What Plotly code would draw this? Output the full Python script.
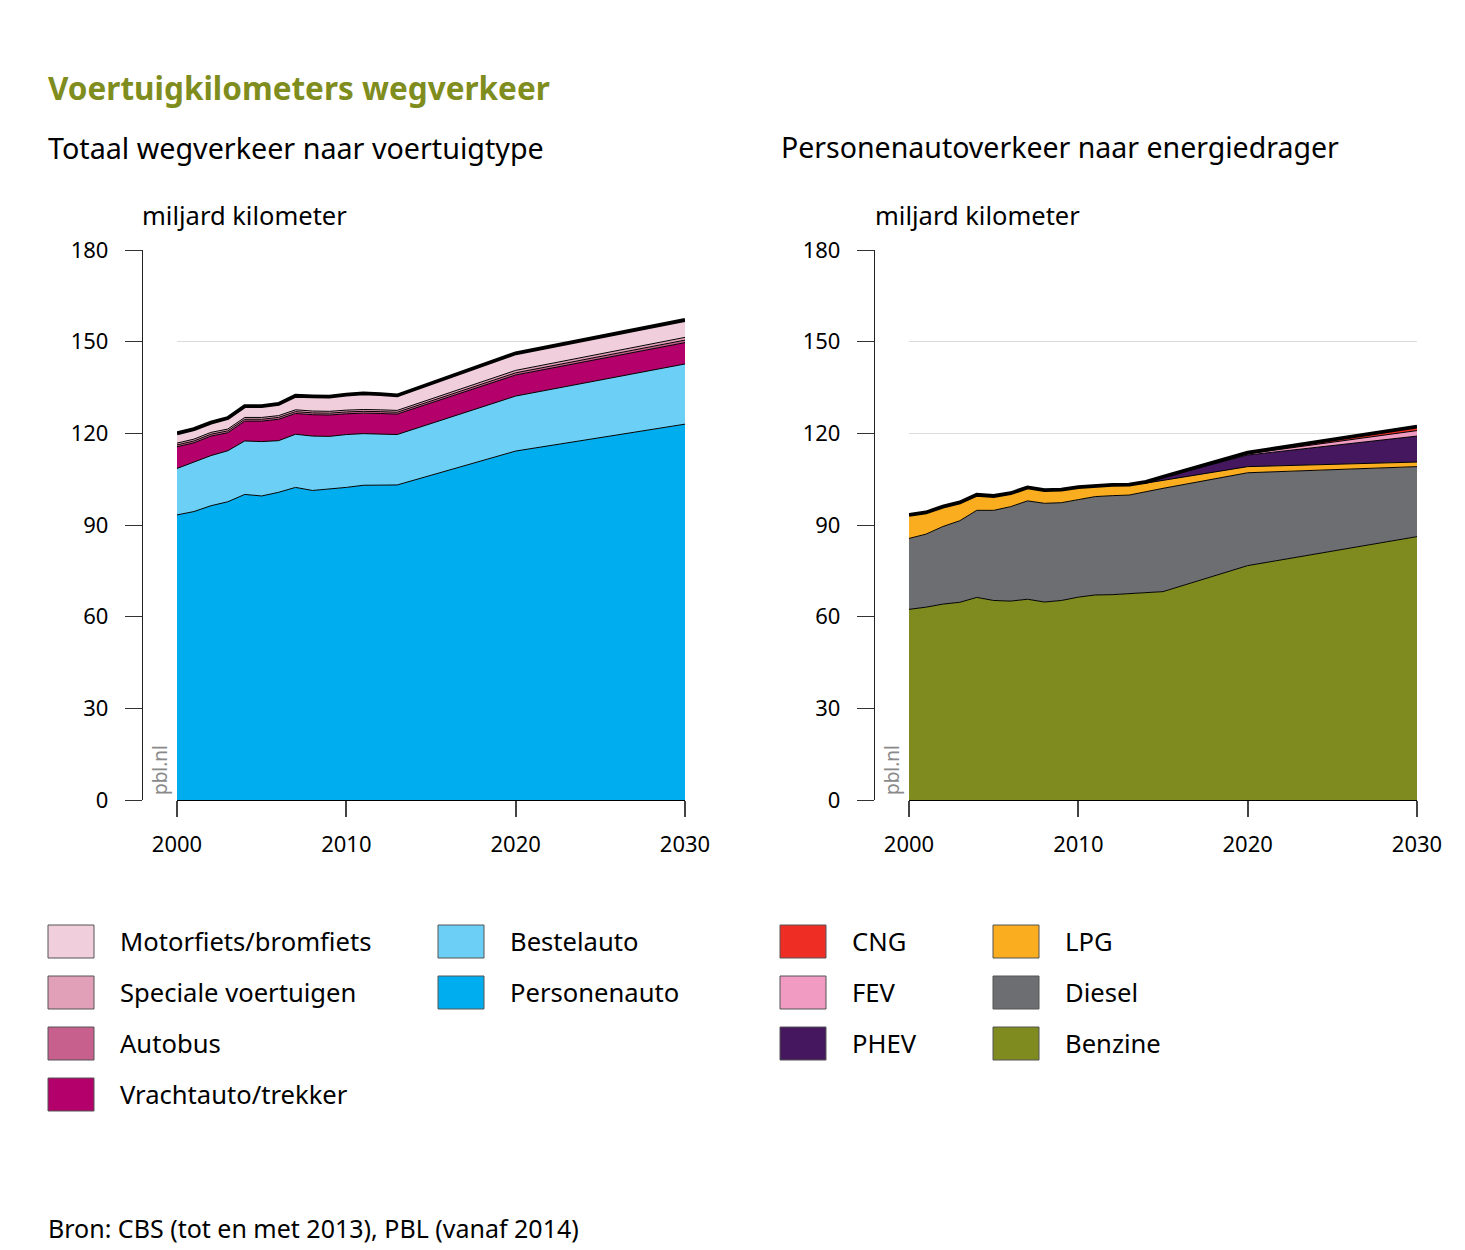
import plotly.graph_objects as go

W, H = 1465, 1250

# ---------------- data: left chart (vehicle type) ----------------
years_left = [2000, 2001, 2002, 2003, 2004, 2005, 2006, 2007, 2008, 2009,
              2010, 2011, 2012, 2013, 2020, 2030]
personenauto = [93.3, 94.4, 96.3, 97.6, 100.0, 99.5, 100.7, 102.3, 101.3, 101.7,
                102.3, 103.0, 103.1, 103.1, 114.2, 123.0]
bestelauto = [15.2, 16.1, 16.4, 16.7, 17.5, 17.8, 16.9, 17.4, 17.8, 17.3,
              17.3, 16.9, 16.7, 16.5, 18.0, 19.7]
vrachtauto = [7.1, 6.4, 6.4, 5.9, 6.5, 6.7, 7.0, 6.8, 7.0, 7.0,
              6.8, 6.7, 6.7, 6.7, 6.9, 7.0]
autobus = [0.6, 0.6, 0.6, 0.6, 0.6, 0.6, 0.6, 0.6, 0.6, 0.6,
           0.6, 0.6, 0.6, 0.6, 0.7, 0.8]
speciale = [0.6, 0.6, 0.6, 0.6, 0.6, 0.6, 0.6, 0.6, 0.6, 0.6,
            0.6, 0.6, 0.6, 0.6, 0.8, 0.9]
motorfiets = [3.2, 3.3, 3.2, 3.6, 3.7, 3.7, 3.8, 4.6, 4.8, 4.8,
              5.1, 5.3, 5.1, 4.9, 5.6, 5.7]

# ---------------- data: right chart (energy carrier) ----------------
years_right = [2000, 2001, 2002, 2003, 2004, 2005, 2006, 2007, 2008, 2009,
               2010, 2011, 2012, 2013, 2014, 2015, 2020, 2030]
benzine = [62.4, 63.1, 64.1, 64.7, 66.3, 65.3, 65.1, 65.7, 64.8, 65.3,
           66.4, 67.1, 67.2, 67.6, 67.8, 68.2, 76.7, 86.2]
diesel = [23.2, 23.9, 25.4, 26.7, 28.5, 29.5, 30.9, 32.2, 32.3, 32.0,
          31.9, 32.2, 32.4, 32.2, 33.1, 33.8, 30.4, 22.9]
lpg = [7.7, 7.1, 6.5, 6.0, 5.1, 4.7, 4.4, 4.4, 4.3, 4.3,
       4.1, 3.6, 3.5, 3.4, 2.8, 2.6, 2.0, 1.5]
phev = [0, 0, 0, 0, 0, 0, 0, 0, 0, 0,
        0, 0, 0, 0, 0.3, 1.0, 3.8, 8.5]
fev = [0, 0, 0, 0, 0, 0, 0, 0, 0, 0,
       0, 0, 0, 0, 0.05, 0.1, 0.4, 1.8]
cng = [0, 0, 0, 0, 0, 0, 0, 0, 0, 0,
       0, 0, 0, 0, 0.05, 0.1, 0.4, 1.3]

x_ticks = [2000, 2010, 2020, 2030]
y_ticks = [0, 30, 60, 90, 120, 150, 180]

left_series = [  # bottom -> top
    ("Personenauto", personenauto, "#00aeef"),
    ("Bestelauto", bestelauto, "#6ccff6"),
    ("Vrachtauto/trekker", vrachtauto, "#b4006a"),
    ("Autobus", autobus, "#c8608e"),
    ("Speciale voertuigen", speciale, "#e29fb8"),
    ("Motorfiets/bromfiets", motorfiets, "#f0cedb"),
]
right_series = [
    ("Benzine", benzine, "#7f8b1e"),
    ("Diesel", diesel, "#6d6e71"),
    ("LPG", lpg, "#f9ad1f"),
    ("PHEV", phev, "#44175f"),
    ("FEV", fev, "#f19ac2"),
    ("CNG", cng, "#ee2d24"),
]

FONT = "Noto Sans"
fig = go.Figure()

for years, series, xa, ya, grp in [(years_left, left_series, "x", "y", "L"),
                                   (years_right, right_series, "x2", "y2", "R")]:
    n = len(series)
    for i, (name, vals, col) in enumerate(series):
        fig.add_trace(go.Scatter(
            x=years, y=vals, name=name, mode="lines",
            stackgroup=grp, fillcolor=col,
            line=dict(color="black", width=3.8 if i == n - 1 else 1),
            xaxis=xa, yaxis=ya, showlegend=False, hoverinfo="skip"))

ax_common = dict(range=[2000, 2030], tickvals=x_ticks, ticks="outside", ticklen=16,
                 tickcolor="#444", tickwidth=1.5, showline=True, linecolor="black",
                 linewidth=1, showgrid=False, zeroline=False, automargin=False,
                 tickfont=dict(family=FONT, size=22, color="black"),
                 ticklabelstandoff=9)
ay_common = dict(range=[0, 180], tickvals=y_ticks, ticks="outside", ticklen=17,
                 tickcolor="#333", tickwidth=1.3, showline=True, linecolor="#222",
                 linewidth=1.3, showgrid=True, gridcolor="#dcdcdc", gridwidth=1,
                 zeroline=False, domain=[0.36, 0.8], anchor="free", automargin=False,
                 tickfont=dict(family=FONT, size=22, color="black"),
                 ticklabelstandoff=12)

fig.update_layout(
    width=W, height=H, margin=dict(l=0, r=0, t=0, b=0, pad=0, autoexpand=False),
    paper_bgcolor="white", plot_bgcolor="white",
    xaxis=dict(domain=[177 / W, 685 / W], anchor="y", **ax_common),
    xaxis2=dict(domain=[909 / W, 1417 / W], anchor="y2", **ax_common),
    yaxis=dict(position=142 / W, **ay_common),
    yaxis2=dict(position=874 / W, **ay_common),
    showlegend=False,
)

ann = []
def txt(x, y, s, size, color="black", bold=False, xanchor="left", yanchor="middle", angle=0):
    ann.append(dict(x=x / W, y=1 - y / H, xref="paper", yref="paper", text=("<b>%s</b>" % s) if bold else s,
                    showarrow=False, xanchor=xanchor, yanchor=yanchor, textangle=angle,
                    font=dict(family=FONT, size=size, color=color)))

txt(46, 87, "Voertuigkilometers wegverkeer", 31.5, color="#7f8d1e", bold=True)
txt(46, 147, "Totaal wegverkeer naar voertuigtype", 28.7)
txt(779, 147, "Personenautoverkeer naar energiedrager", 28.5)
txt(140, 215, "miljard kilometer", 25.5)
txt(873, 215, "miljard kilometer", 25.5)
txt(160, 770, "pbl.nl", 19, color="#8a8a8a", xanchor="center", angle=-90)
txt(892, 770, "pbl.nl", 19, color="#8a8a8a", xanchor="center", angle=-90)
txt(46, 1228, "Bron: CBS (tot en met 2013), PBL (vanaf 2014)", 25)

shapes = []
def legend_item(bx, row, name, col):
    top = 925 + row * 51
    shapes.append(dict(type="rect", xref="paper", yref="paper",
                       x0=bx / W, x1=(bx + 46) / W, y0=1 - (top + 33) / H, y1=1 - top / H,
                       fillcolor=col, line=dict(color="#555", width=1)))
    txt(bx + 70, top + 16.5, name, 25.6)

# legends: column-major, top of stack first
left_leg = list(reversed(left_series))
for k, (name, _, col) in enumerate(left_leg):
    if k < 4:
        legend_item(48, k, name, col)
    else:
        legend_item(438, k - 4, name, col)
right_leg = list(reversed(right_series))
for k, (name, _, col) in enumerate(right_leg):
    if k < 3:
        legend_item(780, k, name, col)
    else:
        legend_item(993, k - 3, name, col)

fig.update_layout(annotations=ann, shapes=shapes)

fig.write_html("out.html", config={"displayModeBar": False},
               post_script="document.body.style.margin='0';")
